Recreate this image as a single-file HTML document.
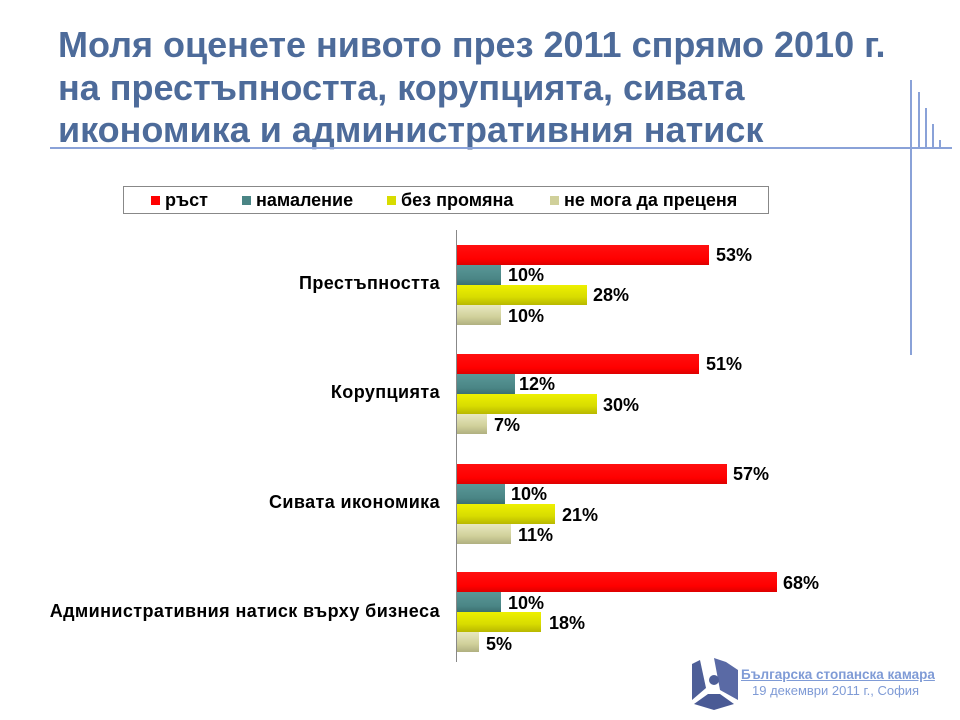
<!DOCTYPE html>
<html><head><meta charset="utf-8"><style>
body{margin:0;width:960px;height:720px;background:#fff;position:relative;overflow:hidden;font-family:"Liberation Sans",sans-serif}
.t{position:absolute;left:58px;top:24px;font-size:36px;font-weight:bold;color:#4d6b9a;line-height:42.5px;white-space:nowrap}
.a{position:absolute;background:#8aa2d8}
.lg{position:absolute;left:123px;top:186px;width:646px;height:28px;border:1px solid #888;box-sizing:border-box;font-size:18px;font-weight:bold}
.lg span{position:absolute;top:3px;white-space:nowrap}
.lg i{position:absolute;top:9px;width:9px;height:9px}
.b{position:absolute;left:457px;height:20px}
.v{position:absolute;font-size:18px;font-weight:bold}
.c{position:absolute;right:520px;font-size:18px;letter-spacing:0.4px;font-weight:bold;text-align:right;white-space:nowrap}
.r{background:linear-gradient(#ff1010,#f00 70%,#d00)}
.g{background:linear-gradient(#5a9898,#4a8585 70%,#3c7070)}
.y{background:linear-gradient(#eef000,#d8dc00 60%,#b8b800)}
.w{background:linear-gradient(#e8e8c0,#d0d09a 60%,#b0b080)}
</style></head><body>
<div class="t">Моля оценете нивото през 2011 спрямо 2010 г.<br>на престъпността, корупцията, сивата<br>икономика и административния натиск</div>
<div class="a" style="left:50px;top:147px;width:902px;height:2px"></div>
<div class="a" style="left:910px;top:80px;width:2px;height:275px"></div>
<div class="a" style="left:918px;top:92px;width:2px;height:56px"></div>
<div class="a" style="left:925px;top:108px;width:2px;height:40px"></div>
<div class="a" style="left:932px;top:124px;width:2px;height:24px"></div>
<div class="a" style="left:939px;top:140px;width:2px;height:8px"></div>
<div class="lg">
<i style="left:27px;background:#f00"></i><span style="left:41px">ръст</span>
<i style="left:118px;background:#4a8585"></i><span style="left:132px">намаление</span>
<i style="left:263px;background:#d8dc00"></i><span style="left:277px">без промяна</span>
<i style="left:426px;background:#d0d09a"></i><span style="left:440px">не мога да преценя</span>
</div>
<div style="position:absolute;left:456px;top:230px;width:1px;height:432px;background:#888"></div>

<div class="c" style="top:273px">Престъпността</div>
<div class="b r" style="top:245px;width:252px"></div><div class="v" style="left:716px;top:245px">53%</div>
<div class="b g" style="top:265px;width:44px"></div><div class="v" style="left:508px;top:265px">10%</div>
<div class="b y" style="top:285px;width:130px"></div><div class="v" style="left:593px;top:285px">28%</div>
<div class="b w" style="top:305px;width:44px"></div><div class="v" style="left:508px;top:306px">10%</div>

<div class="c" style="top:382px">Корупцията</div>
<div class="b r" style="top:354px;width:242px"></div><div class="v" style="left:706px;top:354px">51%</div>
<div class="b g" style="top:374px;width:58px"></div><div class="v" style="left:519px;top:374px">12%</div>
<div class="b y" style="top:394px;width:140px"></div><div class="v" style="left:603px;top:395px">30%</div>
<div class="b w" style="top:414px;width:30px"></div><div class="v" style="left:494px;top:415px">7%</div>

<div class="c" style="top:492px">Сивата икономика</div>
<div class="b r" style="top:464px;width:270px"></div><div class="v" style="left:733px;top:464px">57%</div>
<div class="b g" style="top:484px;width:48px"></div><div class="v" style="left:511px;top:484px">10%</div>
<div class="b y" style="top:504px;width:98px"></div><div class="v" style="left:562px;top:505px">21%</div>
<div class="b w" style="top:524px;width:54px"></div><div class="v" style="left:518px;top:525px">11%</div>

<div class="c" style="top:601px">Административния натиск върху бизнеса</div>
<div class="b r" style="top:572px;width:320px"></div><div class="v" style="left:783px;top:573px">68%</div>
<div class="b g" style="top:592px;width:44px"></div><div class="v" style="left:508px;top:593px">10%</div>
<div class="b y" style="top:612px;width:84px"></div><div class="v" style="left:549px;top:613px">18%</div>
<div class="b w" style="top:632px;width:22px"></div><div class="v" style="left:486px;top:634px">5%</div>

<svg style="position:absolute;left:690px;top:656px" width="50" height="56" viewBox="0 0 50 56">
<polygon points="10,4 2,8 2,44 16,32" fill="#4e5f98"/>
<polygon points="24,2 36,6 48,14 48,44 30,34" fill="#5a6aa5"/>
<polygon points="4,48 18,38 30,38 44,48 24,54" fill="#4a5a95"/>
<circle cx="24" cy="24" r="5" fill="#4e5f98"/>
</svg>
<div style="position:absolute;left:741px;top:667px;font-size:13.5px;font-weight:bold;color:#7f9bd6;text-decoration:underline;white-space:nowrap">Българска стопанска камара</div>
<div style="position:absolute;left:752px;top:683px;font-size:13px;color:#7f9bd6;white-space:nowrap">19 декември 2011 г., София</div>
</body></html>
